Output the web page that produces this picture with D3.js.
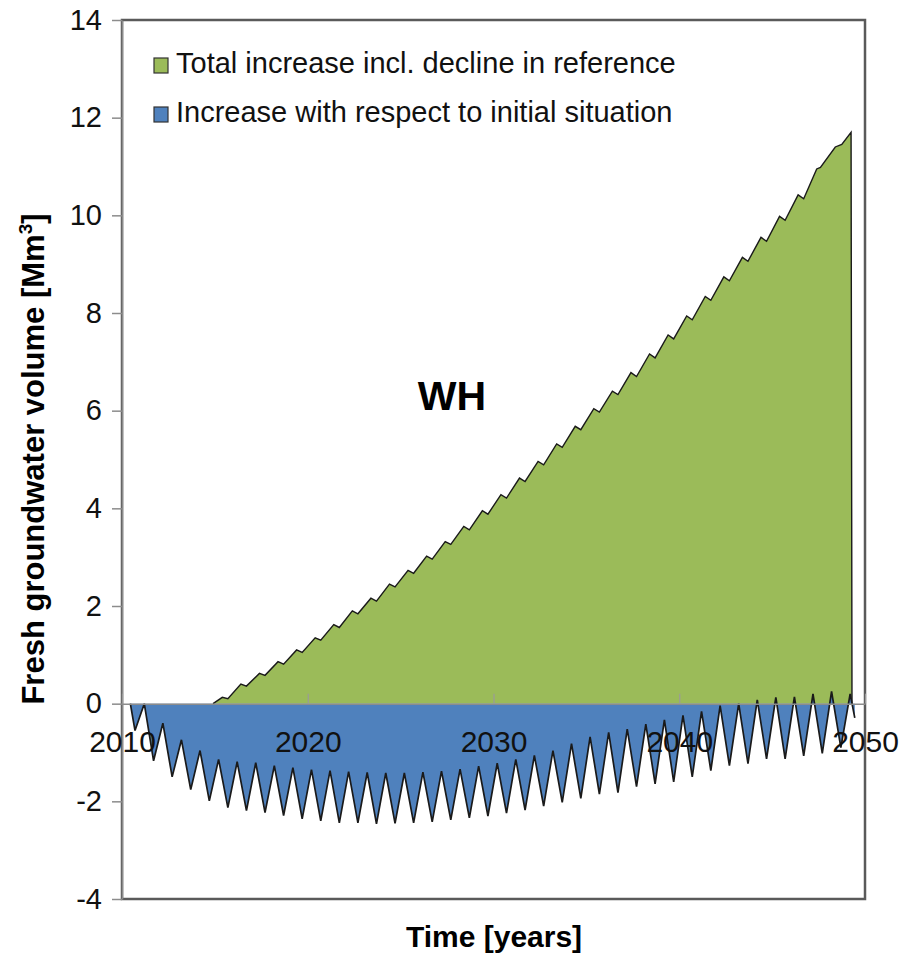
<!DOCTYPE html>
<html>
<head>
<meta charset="utf-8">
<script src="https://cdn.jsdelivr.net/npm/d3@7"></script>
<style>
  body { margin: 0; background: #fff; }
  text { font-family: Arial, "Liberation Sans", sans-serif; }
</style>
</head>
<body>
<div id="chart"></div>
<script>
// series: [year, Mm3]
var totalIncrease = [
  [2014.9, 0], [2015.4, 0.13], [2015.7, 0.10],
  [2016.4, 0.40], [2016.7, 0.36], [2017.4, 0.62], [2017.7, 0.58],
  [2018.4, 0.86], [2018.7, 0.81], [2019.4, 1.10], [2019.7, 1.05],
  [2020.4, 1.35], [2020.7, 1.30], [2021.4, 1.62], [2021.7, 1.56],
  [2022.4, 1.90], [2022.7, 1.84], [2023.4, 2.16], [2023.7, 2.10],
  [2024.4, 2.45], [2024.7, 2.39], [2025.4, 2.73], [2025.7, 2.67],
  [2026.4, 3.02], [2026.7, 2.96], [2027.4, 3.32], [2027.7, 3.26],
  [2028.4, 3.63], [2028.7, 3.56], [2029.4, 3.95], [2029.7, 3.88],
  [2030.4, 4.28], [2030.7, 4.21], [2031.4, 4.62], [2031.7, 4.55],
  [2032.4, 4.96], [2032.7, 4.89], [2033.4, 5.32], [2033.7, 5.25],
  [2034.4, 5.68], [2034.7, 5.61], [2035.4, 6.04], [2035.7, 5.97],
  [2036.4, 6.40], [2036.7, 6.33], [2037.4, 6.78], [2037.7, 6.70],
  [2038.4, 7.16], [2038.7, 7.08], [2039.4, 7.55], [2039.7, 7.47],
  [2040.4, 7.94], [2040.7, 7.86], [2041.4, 8.34], [2041.7, 8.26],
  [2042.4, 8.74], [2042.7, 8.66], [2043.4, 9.14], [2043.7, 9.06],
  [2044.4, 9.55], [2044.7, 9.47], [2045.4, 9.98], [2045.7, 9.90],
  [2046.4, 10.42], [2046.7, 10.34], [2047.4, 10.95], [2047.6, 10.98],
  [2048.4, 11.40], [2048.75, 11.45], [2049.25, 11.70], [2049.3, 0]
];

var vsInitial = [
  [2010.45, 0], [2010.7, -0.55], [2011.2, 0.0],
  [2011.7, -1.17], [2012.2, -0.40], [2012.7, -1.50], [2013.2, -0.74],
  [2013.7, -1.76], [2014.2, -0.96], [2014.7, -1.99], [2015.2, -1.14],
  [2015.7, -2.13], [2016.2, -1.19], [2016.7, -2.19], [2017.2, -1.21],
  [2017.7, -2.23], [2018.2, -1.27], [2018.7, -2.29], [2019.2, -1.31],
  [2019.7, -2.36], [2020.2, -1.35], [2020.7, -2.40], [2021.2, -1.37],
  [2021.7, -2.44], [2022.2, -1.39], [2022.7, -2.44], [2023.2, -1.41],
  [2023.7, -2.46], [2024.2, -1.42], [2024.7, -2.45], [2025.2, -1.42],
  [2025.7, -2.44], [2026.2, -1.40], [2026.7, -2.42], [2027.2, -1.38],
  [2027.7, -2.38], [2028.2, -1.34], [2028.7, -2.34], [2029.2, -1.28],
  [2029.7, -2.30], [2030.2, -1.22], [2030.7, -2.24], [2031.2, -1.14],
  [2031.7, -2.18], [2032.2, -1.06], [2032.7, -2.10], [2033.2, -0.96],
  [2033.7, -2.02], [2034.2, -0.82], [2034.7, -1.94], [2035.2, -0.68],
  [2035.7, -1.85], [2036.2, -0.59], [2036.7, -1.82], [2037.2, -0.52],
  [2037.7, -1.70], [2038.2, -0.42], [2038.7, -1.64], [2039.2, -0.33],
  [2039.7, -1.60], [2040.2, -0.24], [2040.7, -1.50], [2041.2, -0.16],
  [2041.7, -1.37], [2042.2, -0.04], [2042.7, -1.27], [2043.2, 0.00],
  [2043.7, -1.23], [2044.2, 0.08], [2044.7, -1.13], [2045.2, 0.13],
  [2045.7, -1.13], [2046.2, 0.14], [2046.7, -1.07], [2047.2, 0.20],
  [2047.7, -1.02], [2048.2, 0.25], [2048.7, -0.90], [2049.2, 0.20],
  [2049.45, -0.29]
];

var yTicks = [-4, -2, 0, 2, 4, 6, 8, 10, 12, 14];
var xTicks = [2010, 2020, 2030, 2040, 2050];
var legendLabels = ["Total increase incl. decline in reference",
                    "Increase with respect to initial situation"];
var legendColors = ["#9BBB59", "#4F81BD"];

var width = 919, height = 956;
var plot = {left: 122, right: 865, top: 20, bottom: 899};

var svg = d3.select("#chart").append("svg")
    .attr("width", width)
    .attr("height", height)
    .style("background", "#fff");

var x = d3.scaleLinear().domain([2010, 2050]).range([plot.left, plot.right]);
var y = d3.scaleLinear().domain([-4, 14]).range([plot.bottom, plot.top]);

// plot area frame
svg.append("rect")
    .attr("x", plot.left).attr("y", plot.top)
    .attr("width", plot.right - plot.left)
    .attr("height", plot.bottom - plot.top)
    .attr("fill", "none")
    .attr("stroke", "#5a5a5a")
    .attr("stroke-width", 2.5);

var area = d3.area()
    .x(d => x(d[0]))
    .y0(y(0))
    .y1(d => y(d[1]));
var line = d3.line()
    .x(d => x(d[0]))
    .y(d => y(d[1]));

svg.append("path").datum(totalIncrease)
    .attr("d", area)
    .attr("fill", legendColors[0]);
svg.append("path").datum(vsInitial)
    .attr("d", area)
    .attr("fill", legendColors[1]);

svg.append("path").datum(totalIncrease)
    .attr("d", line)
    .attr("fill", "none")
    .attr("stroke", "#1a1a1a")
    .attr("stroke-width", 1.4);
svg.append("path").datum(vsInitial)
    .attr("d", line)
    .attr("fill", "none")
    .attr("stroke", "#1a1a1a")
    .attr("stroke-width", 1.7);

// y axis (plain hyphen for negatives, as in the original)
var yAxis = svg.append("g")
    .attr("transform", "translate(" + plot.left + ",0)")
    .call(d3.axisLeft(y).tickValues(yTicks).tickFormat(d => String(d))
        .tickSize(10).tickPadding(10).tickSizeOuter(0));
yAxis.select(".domain").attr("stroke", "#8c8c8c").attr("stroke-width", 1.5);
yAxis.selectAll(".tick line").attr("stroke", "#8c8c8c").attr("stroke-width", 1.5);
yAxis.selectAll("text")
    .attr("fill", "#111")
    .style("font-size", "29px")
    .style("font-family", "Arial, 'Liberation Sans', sans-serif");

// x axis sits on zero, ticks point up, labels below
var xAxis = svg.append("g")
    .attr("transform", "translate(0," + y(0) + ")")
    .call(d3.axisBottom(x).tickValues(xTicks).tickFormat(d => String(d))
        .tickSizeInner(-10).tickSizeOuter(0).tickPadding(27));
xAxis.select(".domain").attr("stroke", "#8c8c8c").attr("stroke-width", 1.5);
xAxis.selectAll(".tick line").attr("stroke", "#9a9a9a").attr("stroke-width", 1.2);
xAxis.selectAll("text")
    .attr("fill", "#111")
    .style("font-size", "30px")
    .style("font-family", "Arial, 'Liberation Sans', sans-serif");

// legend
var legend = svg.append("g");
legendLabels.forEach(function(label, i) {
    var ly = 58 + i * 49;
    legend.append("rect")
        .attr("x", 154).attr("y", ly)
        .attr("width", 14).attr("height", 15)
        .attr("fill", legendColors[i])
        .attr("stroke", "#333").attr("stroke-width", 1.2);
    legend.append("text")
        .attr("x", 176).attr("y", ly + 15)
        .attr("fill", "#111")
        .style("font-size", "29px")
        .text(label);
});

svg.append("text")
    .attr("x", 452).attr("y", 410)
    .attr("text-anchor", "middle")
    .style("font-size", "41px")
    .style("font-weight", "bold")
    .text("WH");

// axis titles
var yTitle = svg.append("text")
    .attr("transform", "translate(44,459) rotate(-90)")
    .attr("text-anchor", "middle")
    .style("font-size", "31px")
    .style("font-weight", "bold");
yTitle.append("tspan").text("Fresh groundwater volume [Mm");
yTitle.append("tspan").attr("dy", -12).style("font-size", "19px").text("3");
yTitle.append("tspan").attr("dy", 12).text("]");

svg.append("text")
    .attr("x", 494).attr("y", 947)
    .attr("text-anchor", "middle")
    .style("font-size", "30px")
    .style("font-weight", "bold")
    .text("Time [years]");
</script>
</body>
</html>
